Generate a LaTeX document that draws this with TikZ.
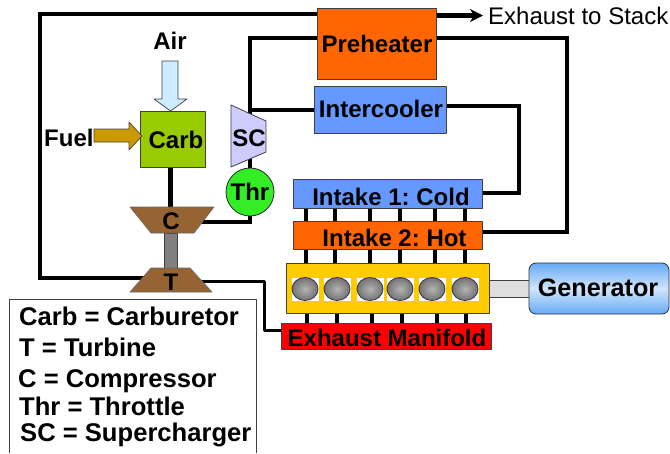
\documentclass[tikz,border=0pt]{standalone}
\usepackage{fontspec}
\setmainfont{Liberation Sans}
\usetikzlibrary{shapes.geometric,arrows.meta}
\definecolor{boxorange}{RGB}{255,102,0}
\definecolor{boxblue}{RGB}{102,153,255}
\definecolor{carbgreen}{RGB}{153,204,0}
\definecolor{brownT}{RGB}{150,100,50}
\definecolor{thrgreen}{RGB}{51,238,38}
\definecolor{scblue}{RGB}{204,204,255}
\definecolor{engyellow}{RGB}{255,204,0}
\definecolor{fuelbrown}{RGB}{204,153,0}
\definecolor{airblue}{RGB}{204,236,255}
\definecolor{genblue}{RGB}{102,170,245}
\tikzset{
	blockbox/.style={draw=black!75,line width=0.8pt,inner sep=0pt},
	pipe/.style={line width=4.4pt,line cap=butt,line join=miter},
	runner/.style={line width=4pt,line cap=butt},
	cylbox/.style={draw=black!80,line width=0.8pt,ellipse,minimum width=26pt,minimum height=23pt,inner sep=0pt,inner color=black!30,outer color=black!55},
	blocktext/.style={font=\fontsize{24}{28}\selectfont\bfseries\frenchspacing,inner sep=0pt},
	keytext/.style={font=\fontsize{25.6}{30}\selectfont\bfseries,inner sep=0pt,anchor=base west}
}
\begin{document}
\begin{tikzpicture}[x=1pt,y=-1pt,line join=round,>=stealth]
	\useasboundingbox (0,0) rectangle (670,453);

	% pipes first, the blocks sit on top
	\coordinate (LoopA) at (40,278);
	\coordinate (LoopB) at (40,14);
	\coordinate (PreIn) at (317,14);
	\coordinate (TurbIn) at (145,278);
	\draw[pipe] (TurbIn) -- (LoopA) -- (LoopB) -- (PreIn);

	\coordinate (TurbOut) at (200,281.5);
	\coordinate (ManA) at (264,281.5);
	\coordinate (ManB) at (264,330);
	\coordinate (ManIn) at (282,330);
	\draw[line width=3pt,line cap=butt] (TurbOut) -- (ManA) -- (ManB) -- (ManIn);

	\coordinate (ScTop) at (250,115);
	\coordinate (ScA) at (250,38);
	\coordinate (PreL) at (317,38);
	\coordinate (IcL) at (315,110);
	\coordinate (ScB) at (250,110);
	\draw[pipe] (ScTop) -- (ScA) -- (PreL);
	\draw[pipe] (ScB) -- (IcL);

	\coordinate (PreR) at (436,38);
	\coordinate (HotA) at (567,38);
	\coordinate (HotB) at (567,232);
	\coordinate (HotIn) at (482,232);
	\draw[pipe] (PreR) -- (HotA) -- (HotB) -- (HotIn);

	\coordinate (IcR) at (446,106);
	\coordinate (ColdA) at (519,106);
	\coordinate (ColdB) at (519,193);
	\coordinate (ColdIn) at (482,193);
	\draw[pipe] (IcR) -- (ColdA) -- (ColdB) -- (ColdIn);

	\coordinate (ThrA) at (250,222);
	\coordinate (CompIn) at (198,222);
	\draw[pipe] (250,150) -- (ThrA) -- (CompIn);
	\draw[pipe] (170.5,160) -- (170.5,210);

	% runners
	\foreach \xa/\xb in {306/307,335/337,370/372,400/401.5,435/437,465/466}{
		\draw[runner] (\xa,207) -- (\xa,222);
		\draw[runner] (\xa,248) -- (\xa,264);
		\draw[runner] (\xb,312) -- (\xb,324);
	}

	% exhaust out of the preheater
	\coordinate (StackEnd) at (483,15.5);
	\draw[line width=5pt,line cap=butt,-{Stealth[length=13pt,width=13pt]}] (436,15.5) -- (StackEnd);
	\node[font=\fontsize{24}{28}\selectfont,anchor=west,inner sep=0pt] (stack) at (488,16) {Exhaust to Stack};

	% turbocharger
	\fill[black!50] (164,233) rectangle (177,268);
	\draw[black!75,line width=0.8pt] (164,233) rectangle (177,268);
	\filldraw[fill=brownT,draw=black!60,line width=0.6pt] (130,207) -- (214,207) -- (194,233) -- (151,233) -- cycle;
	\filldraw[fill=brownT,draw=black!60,line width=0.6pt] (151,268) -- (190,268) -- (212,292) -- (130,292) -- cycle;
	\node[blocktext] (comp) at (171,221) {C};
	\node[blocktext] (turb) at (171,282) {T};

	% supercharger and throttle
	\filldraw[fill=scblue,draw=black!75,line width=0.8pt] (231,105) -- (266,121) -- (266,152) -- (231,167) -- cycle;
	\node[blocktext] (sc) at (249,138) {SC};
	\node[circle,draw=black!85,line width=0.8pt,fill=thrgreen,minimum size=48pt,inner sep=0pt] (thr) at (250,192) {};
	\node[blocktext] (thrText) at (250,192) {Thr};

	% carb and its two feeds
	\node[blockbox,fill=carbgreen,minimum width=65pt,minimum height=56pt] (carb) at (173.2,139) {};
	\node[blocktext] (carbText) at (176,140) {Carb};
	\filldraw[fill=airblue,draw=black!75,line width=0.7pt] (162,61) -- (178,61) -- (178,99) -- (187,99) -- (170.5,111) -- (154,99) -- (162,99) -- cycle;
	\filldraw[fill=fuelbrown,draw=black!75,line width=0.7pt] (94,129) -- (129,129) -- (129,122) -- (142,136) -- (129,150) -- (129,142) -- (94,142) -- cycle;
	\node[blocktext] (air) at (170,41) {Air};
	\node[blocktext,anchor=west] (fuel) at (44,138) {Fuel};

	% upper blocks
	\node[blockbox,fill=boxorange,minimum width=119pt,minimum height=71pt] (pre) at (376.5,43.5) {};
	\node[blocktext] (preText) at (377,44) {Preheater};
	\node[blockbox,fill=boxblue,minimum width=132pt,minimum height=47pt] (ic) at (380,109.5) {};
	\node[blocktext] (icText) at (381,109) {Intercooler};
	\node[blockbox,fill=boxblue,minimum width=189pt,minimum height=28.5pt] (cold) at (387.5,194) {};
	\node[blocktext] (coldText) at (391,197) {Intake 1: Cold};
	\node[blockbox,fill=boxorange,minimum width=189pt,minimum height=28pt] (hot) at (387.5,235) {};
	\node[blocktext] (hotText) at (394.5,238) {Intake 2: Hot};

	% engine
	\node[blockbox,fill=engyellow,minimum width=203pt,minimum height=50pt] (engine) at (387.5,288) {};
	\foreach \x in {305,337,370,400,432,465}{
		\fill[white] (\x-13.5,277.5) rectangle (\x+13.5,300.5);
		\node[cylbox] (cyl\x) at (\x,289) {};
	}
	\node[blockbox,fill=red,minimum width=210pt,minimum height=26pt] (manifold) at (386,336) {};
	\node[blocktext] (manText) at (387,338) {Exhaust Manifold};

	% generator
	\node[draw=black!75,line width=0.8pt,fill=black!13,minimum width=41pt,minimum height=17pt,inner sep=0pt] (shaft) at (509.5,288.5) {};
	\node[draw=black!80,line width=0.8pt,rounded corners=7pt,top color=genblue,bottom color=genblue,middle color=white!70!genblue,minimum width=140pt,minimum height=51pt,inner sep=0pt] (gen) at (599,288.5) {};
	\node[blocktext,font=\fontsize{25.2}{30}\selectfont\bfseries] (genText) at (598,288) {Generator};

	% legend
	\draw[black!75,line width=0.8pt] (9,453) -- (9,299.5) -- (256,299.5) -- (256,453);
	\node[keytext] (keyCarb) at (19,325) {Carb = Carburetor};
	\node[keytext] (keyT) at (19,356) {T = Turbine};
	\node[keytext] (keyC) at (18,387) {C = Compressor};
	\node[keytext] (keyThr) at (19,415.5) {Thr = Throttle};
	\node[keytext] (keySC) at (20,441.5) {SC = Supercharger};
\end{tikzpicture}
\end{document}
